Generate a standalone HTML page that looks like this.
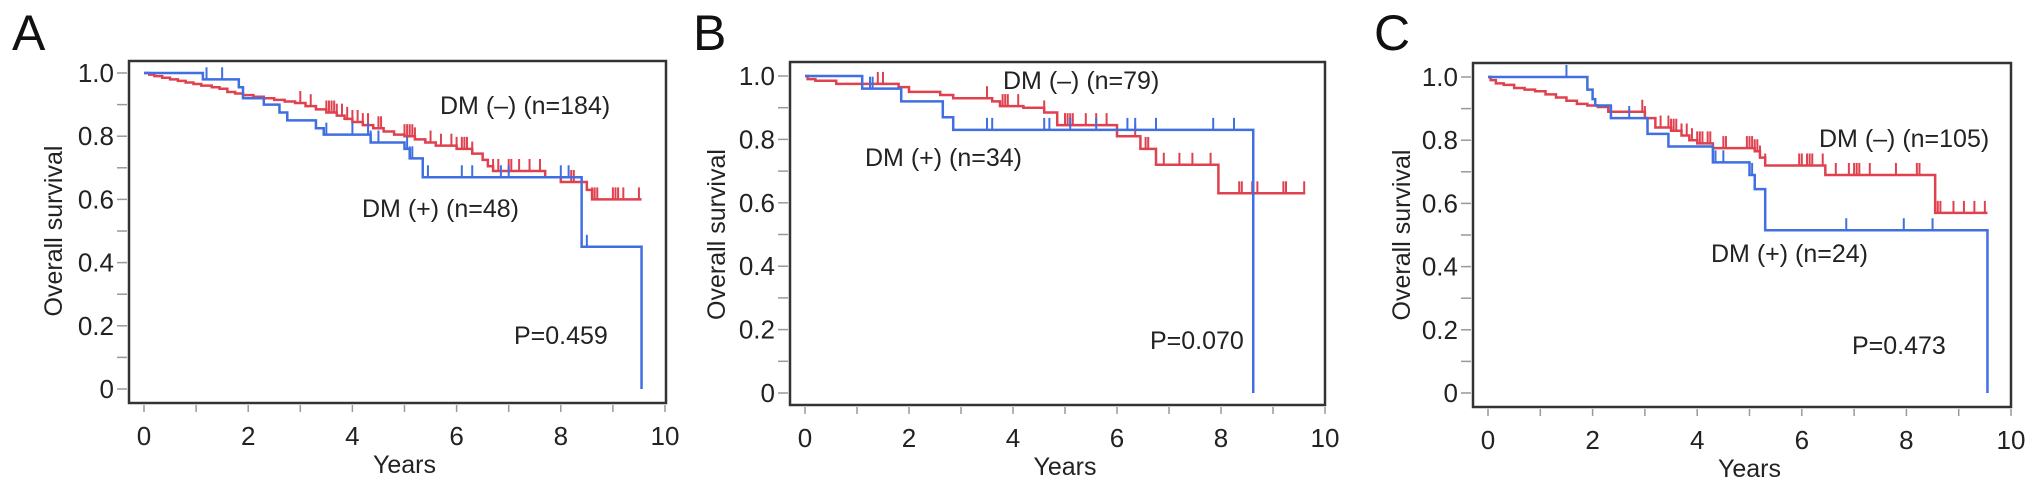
<!DOCTYPE html>
<html><head><meta charset="utf-8"><style>
html,body{margin:0;padding:0;background:#fff;}
svg{display:block;font-family:"Liberation Sans",Arial,sans-serif;}
</style></head><body>
<svg id="fig" width="2032" height="496" viewBox="0 0 2032 496" xmlns="http://www.w3.org/2000/svg"></svg>
<script>
// ---------- DATA ----------
const xTicks = [0, 2, 4, 6, 8, 10];
const yTicks = [0, 0.2, 0.4, 0.6, 0.8, 1.0];
const yTickLabels = ["0", "0.2", "0.4", "0.6", "0.8", "1.0"];

// Panel A
const aNegTimes = [0.1,0.2,0.35,0.5,0.65,0.8,0.95,1.1,1.3,1.45,1.6,1.75,1.9,2.1,2.3,2.5,2.7,2.9,3.1,3.3,3.5,3.7,3.85,4.0,4.2,4.4,4.6,4.8,5.0,5.2,5.4,5.6,6.0,6.3,6.5,6.6,6.7,7.7,8.0,8.5,8.6];
const aNegSurv  = [0.995,0.99,0.985,0.98,0.975,0.97,0.965,0.96,0.955,0.95,0.94,0.935,0.93,0.925,0.92,0.915,0.91,0.905,0.895,0.885,0.875,0.865,0.855,0.845,0.835,0.825,0.815,0.805,0.80,0.79,0.78,0.77,0.76,0.745,0.725,0.705,0.69,0.67,0.655,0.63,0.60];
const aNegCensor = [3.0,3.2,3.5,3.55,3.6,3.65,3.7,3.8,3.9,4.0,4.1,4.2,4.3,4.5,4.55,5.0,5.05,5.1,5.15,5.2,5.5,5.7,5.9,6.0,6.1,6.15,6.2,6.3,6.7,6.8,7.0,7.05,7.2,7.4,7.6,8.2,8.25,8.6,8.65,8.7,9.0,9.05,9.1,9.2,9.5];
const aNegEnd = 9.55;
const aPosTimes = [1.13,1.82,1.9,2.3,2.6,2.75,3.3,3.45,4.35,5.0,5.1,5.35,8.4,9.55];
const aPosSurv  = [0.98,0.955,0.92,0.90,0.875,0.85,0.825,0.805,0.78,0.76,0.73,0.67,0.45,0.0];
const aPosCensor = [1.2,1.5,3.5,4.0,4.3,4.35,4.5,5.05,5.1,5.15,5.45,6.1,6.3,6.85,7.0,8.0,8.15,8.5];
const aPosEnd = 9.55;

// Panel B
const bNegTimes = [0.05,0.2,0.6,1.8,2.0,2.6,2.85,3.6,3.75,4.2,4.6,4.85,6.0,6.45,6.75,7.95];
const bNegSurv  = [0.99,0.985,0.975,0.965,0.95,0.94,0.93,0.92,0.905,0.90,0.885,0.845,0.81,0.77,0.72,0.63];
const bNegCensor = [1.4,1.5,3.5,3.8,3.85,3.9,4.1,4.6,5.0,5.05,5.1,5.15,5.4,5.6,5.8,6.35,6.55,6.6,6.9,7.2,7.45,7.8,8.35,8.4,8.6,8.7,9.2,9.25,9.6];
const bNegEnd = 9.62;
const bPosTimes = [1.1,1.85,2.65,2.85,8.62];
const bPosSurv  = [0.96,0.92,0.87,0.83,0.0];
const bPosCensor = [1.25,1.3,3.5,3.6,4.6,4.7,5.1,5.6,6.2,6.35,6.75,7.85,8.25];
const bPosEnd = 8.62;

// Panel C
const cNegTimes = [0.05,0.15,0.3,0.5,0.7,0.9,1.1,1.3,1.5,1.7,1.9,2.1,2.3,3.0,3.2,3.5,3.7,3.85,4.0,4.3,5.1,5.2,5.3,6.45,8.55];
const cNegSurv  = [0.99,0.98,0.975,0.965,0.96,0.955,0.945,0.935,0.925,0.915,0.91,0.905,0.89,0.87,0.84,0.83,0.815,0.80,0.79,0.775,0.765,0.745,0.72,0.69,0.57];
const cNegCensor = [2.95,3.0,3.3,3.45,3.5,3.55,3.6,3.7,3.8,3.9,4.0,4.05,4.1,4.2,4.25,4.5,4.55,4.95,5.0,5.05,5.1,5.15,5.2,5.3,5.95,6.0,6.1,6.15,6.2,6.4,6.65,6.9,7.0,7.05,7.1,7.3,7.8,8.2,8.25,8.6,8.65,8.9,9.1,9.3,9.5];
const cNegEnd = 9.55;
const cPosTimes = [1.9,2.0,2.05,2.35,3.05,3.45,4.3,5.0,5.1,5.3,9.55];
const cPosSurv  = [0.96,0.93,0.91,0.87,0.82,0.78,0.73,0.69,0.645,0.515,0.0];
const cPosCensor = [1.5,2.7,4.35,4.5,5.05,5.1,6.85,7.95,8.5];
const cPosEnd = 9.55;

// ---------- LAYOUT ----------
const NS = "http://www.w3.org/2000/svg";
const svg = document.getElementById("fig");
const RED = "#e0414f", BLUE = "#3f6fe0";

function mk(tag, attrs, parent) {
  const e = document.createElementNS(NS, tag);
  for (const k in attrs) e.setAttribute(k, attrs[k]);
  (parent || svg).appendChild(e);
  return e;
}

const panels = [
  {id:"a", letter:"A", lx:12, fl:129, fr:666, ft:61, fb:403, x0:144, x10:665, y1:73, y0:389, ytx:54,
   neg:[aNegTimes,aNegSurv,aNegCensor,aNegEnd], pos:[aPosTimes,aPosSurv,aPosCensor,aPosEnd],
   negLabel:["DM (–) (n=184)",440,114], posLabel:["DM (+) (n=48)",362,217], p:["P=0.459",514,344]},
  {id:"b", letter:"B", lx:693, fl:790, fr:1325, ft:62, fb:405, x0:805, x10:1325, y1:76, y0:393, ytx:717,
   neg:[bNegTimes,bNegSurv,bNegCensor,bNegEnd], pos:[bPosTimes,bPosSurv,bPosCensor,bPosEnd],
   negLabel:["DM (–) (n=79)",1003,89], posLabel:["DM (+) (n=34)",865,166], p:["P=0.070",1150,349]},
  {id:"c", letter:"C", lx:1374, fl:1473, fr:2011, ft:63, fb:407, x0:1488, x10:2011, y1:77, y0:393, ytx:1402,
   neg:[cNegTimes,cNegSurv,cNegCensor,cNegEnd], pos:[cPosTimes,cPosSurv,cPosCensor,cPosEnd],
   negLabel:["DM (–) (n=105)",1819,147], posLabel:["DM (+) (n=24)",1711,262], p:["P=0.473",1852,354]}
];

panels.forEach(P => {
  const g = mk("g", {});
  
  
  const X = t => P.x0 + (P.x10 - P.x0) * t / 10;
  const Y = s => P.y0 - (P.y0 - P.y1) * s;

  const lt = mk("text", {x:P.lx, y:50, "font-size":50, fill:"#111"}, g);
  lt.textContent = P.letter;
  
  

  for (let i = 0; i <= 10; i++) {
    const yy = Y(i / 10);
    const tk = mk("line", {x1:P.fl-12, x2:P.fl-2, y1:yy, y2:yy, stroke:"#999", "stroke-width":1.5}, g);
    
    
  }
  yTicks.forEach((v, i) => {
    const t = mk("text", {x:P.fl-15, y:Y(v)+9, "font-size":26, "text-anchor":"end", fill:"#222"}, g);
    t.textContent = yTickLabels[i];
    
    
  });
  for (let i = 0; i <= 10; i++) {
    const xx = X(i);
    const tk = mk("line", {x1:xx, x2:xx, y1:P.fb+2, y2:P.fb+9, stroke:"#999", "stroke-width":1.5}, g);
    
    
  }
  xTicks.forEach(v => {
    const t = mk("text", {x:X(v), y:P.fb+42, "font-size":26, "text-anchor":"middle", fill:"#222"}, g);
    t.textContent = String(v);
    
    
  });
  const xt = mk("text", {x:(P.x0+P.x10)/2, y:P.fb+70, "font-size":25, "text-anchor":"middle", fill:"#222"}, g);
  xt.textContent = "Years";
  
  
  const yc = (P.y0 + P.y1) / 2;
  const yt = mk("text", {x:P.ytx, y:yc, "font-size":25, "text-anchor":"middle", fill:"#222",
    transform:`rotate(-90 ${P.ytx} ${yc})`, "dominant-baseline":"central"}, g);
  yt.textContent = "Overall survival";
  
  

  function curve(series, color, name) {
    const [times, surv, cens, end] = series;
    let d = `M${X(0)},${Y(1)}`;
    times.forEach((t, i) => { d += ` H${X(t)} V${Y(surv[i])}`; });
    if (end > times[times.length-1]) d += ` H${X(end)}`;
    const p = mk("path", {d, fill:"none", stroke:color, "stroke-width":2.5}, g);
    
    
    cens.forEach(c => {
      let s = 1;
      times.forEach((t, i) => { if (t <= c) s = surv[i]; });
      const cl = mk("line", {x1:X(c), x2:X(c), y1:Y(s), y2:Y(s)-12, stroke:color, "stroke-width":2}, g);
      
      
    });
  }
  curve(P.neg, RED, "dm-negative");
  curve(P.pos, BLUE, "dm-positive");

  const fr = mk("rect", {x:P.fl, y:P.ft, width:P.fr-P.fl, height:P.fb-P.ft, fill:"none", stroke:"#333", "stroke-width":2.5}, g);
  
  

  [[P.negLabel,'dm-negative-label'],[P.posLabel,'dm-positive-label'],[P.p,'p-value-label']].forEach(([L,n]) => {
    const t = mk("text", {x:L[1], y:L[2], "font-size":25, fill:"#222"}, g);
    t.textContent = L[0];
    
    
  });
});
</script>
</body></html>
